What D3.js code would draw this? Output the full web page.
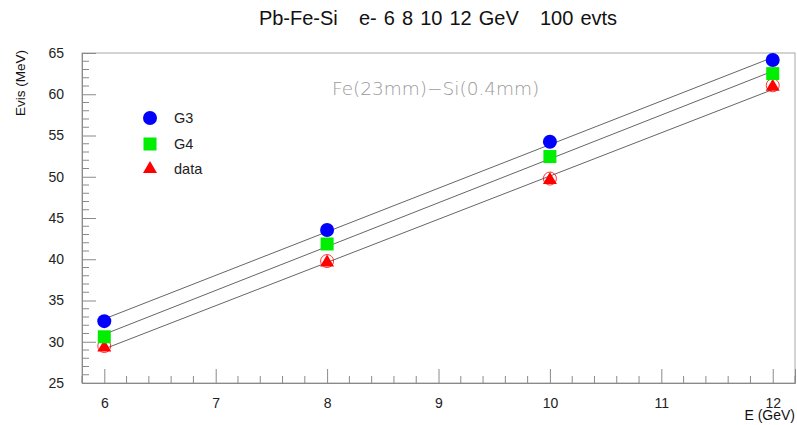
<!DOCTYPE html>
<html>
<head>
<meta charset="utf-8">
<script src="https://cdn.jsdelivr.net/npm/d3@7"></script>
<style>
  body { margin: 0; background: #fff; }
  svg { display: block; font-family: "Liberation Sans", Arial, sans-serif; }
</style>
</head>
<body>
<div id="chart"></div>
<script>
// beam energies (GeV)
const energies = [6, 8, 10, 12];
// visible energy (MeV) per sample
const g3Values = [32.5, 43.55, 54.25, 64.15];
const g4Values = [30.6, 41.85, 52.45, 62.5];
const dataValues = [29.3, 39.6, 49.6, 60.9];

const xTicks = [6, 7, 8, 9, 10, 11, 12];
const yTicks = [25, 30, 35, 40, 45, 50, 55, 60, 65];
const seriesNames = ["G3", "G4", "data"];

const W = 797, H = 425;
const margin = { top: 53, right: 2, bottom: 42, left: 82 };
const width = W - margin.left - margin.right;
const height = H - margin.top - margin.bottom;

const svg = d3.select("#chart").append("svg")
    .attr("width", W).attr("height", H);

const g = svg.append("g")
    .attr("transform", `translate(${margin.left},${margin.top})`);

const x = d3.scaleLinear().domain([5.8, 12.2]).range([0, width]);
const y = d3.scaleLinear().domain([25, 65]).range([height, 0]);

const axisColor = "#8a8a8a";

// frame
g.append("rect")
    .attr("width", width).attr("height", height)
    .attr("fill", "none").attr("stroke", "#a8a8a8").attr("stroke-width", 1);

// x axis: major at integers, minor every 0.2
const xAxis = g.append("g").attr("class", "xAxis")
    .attr("transform", `translate(0,${height})`)
    .call(d3.axisBottom(x).tickValues(xTicks).tickSize(-14).tickPadding(15).tickFormat(d3.format("d")));
const xMinor = d3.range(58, 123, 2).map(v => v / 10).filter(v => !xTicks.includes(v));
g.append("g").selectAll("line").data(xMinor).enter().append("line")
    .attr("x1", d => x(d)).attr("x2", d => x(d))
    .attr("y1", height).attr("y2", height - 7)
    .attr("stroke", axisColor);

// y axis: major every 5, minor every 1
const yAxis = g.append("g").attr("class", "yAxis")
    .call(d3.axisLeft(y).tickValues(yTicks).tickSize(-14).tickPadding(18));
const yMinor = d3.range(26, 65).filter(v => v % 5 !== 0);
g.append("g").selectAll("line").data(yMinor).enter().append("line")
    .attr("x1", 0).attr("x2", 7)
    .attr("y1", d => y(d)).attr("y2", d => y(d))
    .attr("stroke", axisColor);

[xAxis, yAxis].forEach(a => {
    a.select(".domain").attr("stroke", axisColor);
    a.selectAll(".tick line").attr("stroke", axisColor);
    a.selectAll(".tick text").attr("fill", "#222").attr("font-size", 14)
        .attr("font-family", "Liberation Sans, Arial, sans-serif");
});

// linear fits drawn from 6 to 12
function fit(vals) {
    const mx = d3.mean(energies), my = d3.mean(vals);
    let num = 0, den = 0;
    energies.forEach((e, i) => { num += (e - mx) * (vals[i] - my); den += (e - mx) ** 2; });
    const b = num / den;
    return [b, my - b * mx];
}
[g3Values, g4Values, dataValues].forEach(vals => {
    const [b, a] = fit(vals);
    const x0 = energies[0], x1 = energies[energies.length - 1];
    g.append("line")
        .attr("x1", x(x0)).attr("y1", y(a + b * x0))
        .attr("x2", x(x1)).attr("y2", y(a + b * x1))
        .attr("stroke", "#666").attr("stroke-width", 1);
});

// markers
const blue = "#0000ff", green = "#00ee00", red = "#ff0000";
const tri = d3.symbol().type(d3.symbolTriangle).size(85);

function drawCircle(sel, cx, cy) {
    sel.append("circle").attr("cx", cx).attr("cy", cy).attr("r", 7).attr("fill", blue);
}
function drawSquare(sel, cx, cy) {
    sel.append("rect").attr("x", cx - 6.5).attr("y", cy - 6.5)
        .attr("width", 13).attr("height", 13).attr("fill", green);
}
function drawTriangle(sel, cx, cy, ring) {
    if (ring) {
        sel.append("circle").attr("cx", cx).attr("cy", cy - 1.5).attr("r", 6.5)
            .attr("fill", "none").attr("stroke", red).attr("stroke-width", 0.8);
    }
    sel.append("path").attr("d", tri)
        .attr("transform", `translate(${cx},${cy})`).attr("fill", red);
}

energies.forEach((e, i) => {
    drawTriangle(g, x(e), y(dataValues[i]), true);
    drawSquare(g, x(e), y(g4Values[i]));
    drawCircle(g, x(e), y(g3Values[i]));
});

// legend
const legend = svg.append("g");
const legendY = [118, 144, 169];
const drawers = [drawCircle, drawSquare, (s, cx, cy) => drawTriangle(s, cx, cy, false)];
seriesNames.forEach((name, i) => {
    drawers[i](legend, 150, legendY[i]);
    legend.append("text").attr("x", 174).attr("y", legendY[i] + 5)
        .attr("font-size", 14.5).attr("fill", "#222").text(name);
});

// annotation
svg.append("text").attr("x", 332).attr("y", 95)
    .attr("font-family", "DejaVu Sans, sans-serif").attr("font-size", 18.5)
    .attr("fill", "#999").attr("font-weight", 300)
    .text("Fe(23mm)\u2212Si(0.4mm)");

// title
svg.append("text").attr("x", 438).attr("y", 25).attr("text-anchor", "middle")
    .attr("font-size", 20).attr("fill", "#111")
    .attr("word-spacing", 1.5)
    .style("white-space", "pre")
    .text("Pb-Fe-Si   e- 6 8 10 12 GeV   100 evts");

// axis titles
svg.append("text").attr("x", 795).attr("y", 420).attr("text-anchor", "end")
    .attr("font-size", 14).attr("fill", "#111").text("E (GeV)");
svg.append("text")
    .attr("transform", "translate(25,50) rotate(-90)")
    .attr("text-anchor", "end")
    .attr("font-size", 13.5).attr("fill", "#111").text("Evis (MeV)");
</script>
</body>
</html>
